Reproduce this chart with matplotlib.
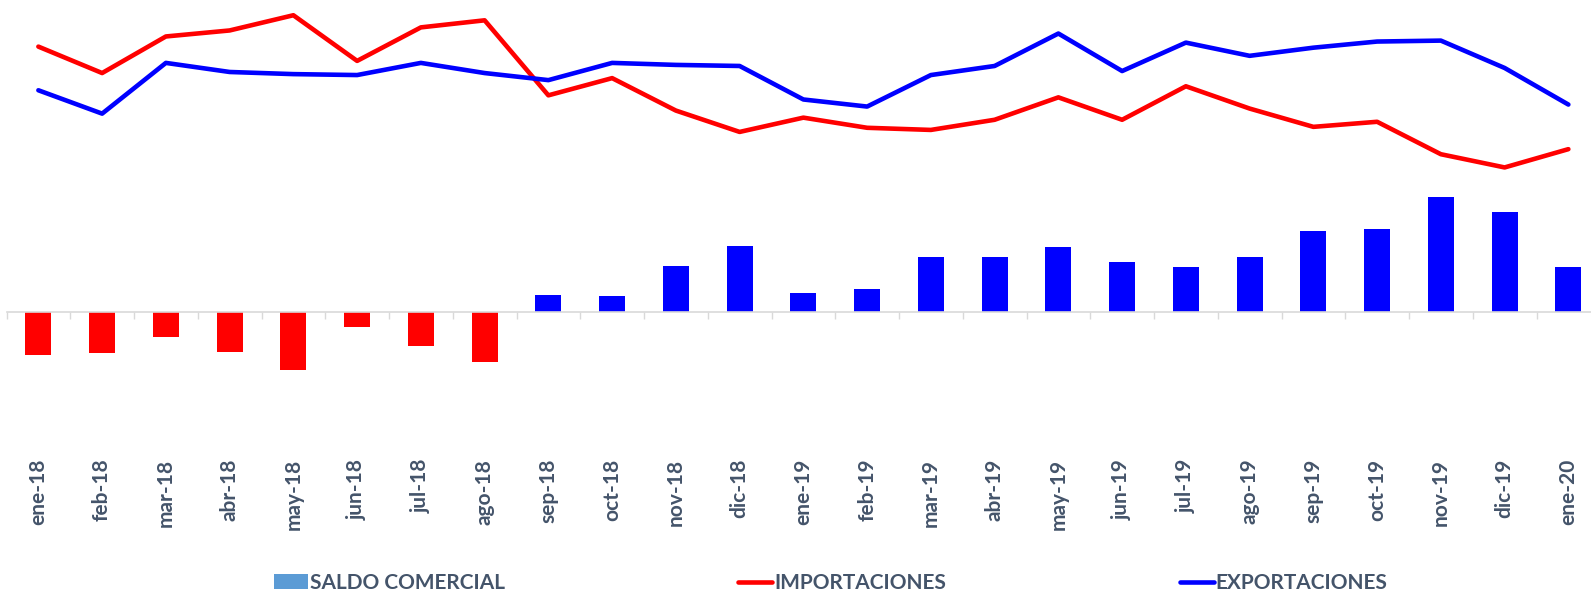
import numpy as np
import matplotlib.pyplot as plt
from matplotlib.patches import Patch
from matplotlib.lines import Line2D

# monthly trade figures (millions USD)
meses = ['ene-18', 'feb-18', 'mar-18', 'abr-18', 'may-18', 'jun-18', 'jul-18',
         'ago-18', 'sep-18', 'oct-18', 'nov-18', 'dic-18', 'ene-19', 'feb-19',
         'mar-19', 'abr-19', 'may-19', 'jun-19', 'jul-19', 'ago-19', 'sep-19',
         'oct-19', 'nov-19', 'dic-19', 'ene-20']

importaciones = [1984, 1786, 2060, 2105, 2219, 1877, 2128, 2181, 1619, 1748,
                 1505, 1345, 1452, 1376, 1360, 1436, 1604, 1436, 1687, 1520,
                 1383, 1421, 1178, 1079, 1216]

exportaciones = [1657, 1482, 1862, 1794, 1778, 1771, 1862, 1786, 1733, 1862,
                 1847, 1839, 1588, 1535, 1771, 1839, 2082, 1801, 2014, 1915,
                 1976, 2022, 2029, 1824, 1550]

saldo = [-327, -312, -190, -304, -441, -114, -258, -380, 122, 114, 342, 494,
         137, 167, 410, 410, 486, 372, 334, 410, 600, 616, 859, 745, 334]

txt_color = '#44546A'
plt.rcParams['font.family'] = ['Lato', 'DejaVu Sans']

fig = plt.figure(figsize=(15.91, 5.93), dpi=100)
W, H = 1591, 593
ax = fig.add_axes([6.5 / W, 1 - 440 / H, 1593.75 / W, 440 / H])

x = np.arange(len(meses))
colores = ['#FF0000' if v < 0 else '#0000FF' for v in saldo]
ax.bar(x, saldo, width=0.41, color=colores, zorder=2)
ax.plot(x, importaciones, color='#FF0000', lw=3.3, solid_joinstyle='round',
        solid_capstyle='round', zorder=3)
ax.plot(x, exportaciones, color='#0000FF', lw=3.3, solid_joinstyle='round',
        solid_capstyle='round', zorder=3)

px = 7.49  # value units per pixel
ax.set_ylim(-(440 - 311.5) * px, 311.5 * px)
ax.set_xlim(-0.5, len(meses) - 0.5)

for s in ['top', 'left', 'right']:
    ax.spines[s].set_visible(False)
ax.spines['bottom'].set_position(('data', 0))
ax.spines['bottom'].set_color('#D9D9D9')
ax.spines['bottom'].set_linewidth(1.2)
ax.set_yticks([])

ax.set_xticks(x)
ax.set_xticklabels(meses, rotation=90, va='top', ha='center',
                   fontsize=15, fontweight='bold', color=txt_color)
ax.tick_params(axis='x', which='major', length=0, pad=106)
ax.set_xticks(np.arange(len(meses) + 1) - 0.5, minor=True)
ax.tick_params(axis='x', which='minor', length=5, width=1, color='#D9D9D9',
               direction='out')

handles = [Patch(facecolor='#5B9BD5', edgecolor='none'),
           Line2D([], [], color='#FF0000', lw=3.3, solid_capstyle='round'),
           Line2D([], [], color='#0000FF', lw=3.3, solid_capstyle='round')]
labels = ['SALDO COMERCIAL', 'IMPORTACIONES', 'EXPORTACIONES']
leg = fig.legend(handles, labels, ncol=3, loc='center left',
                 bbox_to_anchor=(274 / W, 1 - 583 / H), frameon=False,
                 borderpad=0, borderaxespad=0, handlelength=1.63,
                 handleheight=0.7, handletextpad=0.1, columnspacing=11.2,
                 prop={'size': 15, 'weight': 'bold'})
for t in leg.get_texts():
    t.set_color(txt_color)

fig.savefig('out.png', dpi=100)
